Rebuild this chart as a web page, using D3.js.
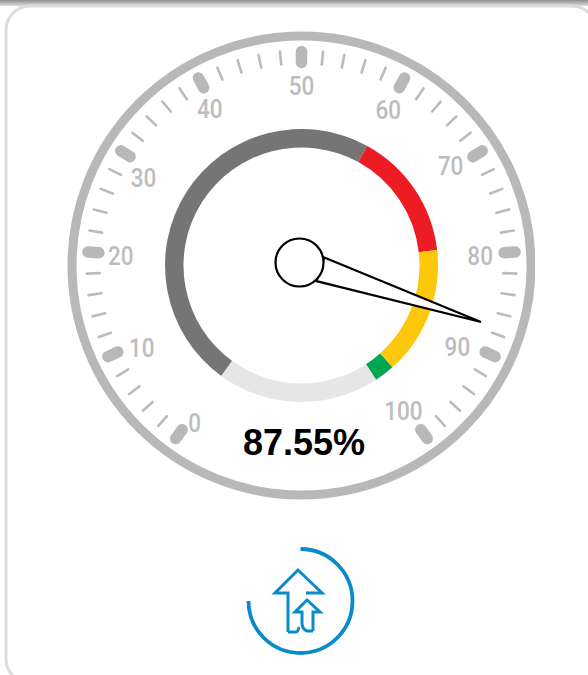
<!DOCTYPE html>
<html>
<head>
<meta charset="utf-8">
<script src="https://cdn.jsdelivr.net/npm/d3@7"></script>
<style>
  html, body { margin: 0; padding: 0; background: #fff; }
  svg { display: block; }
  text { font-family: Roboto, sans-serif; }
</style>
</head>
<body>
<div id="chart"></div>
<script>
// gauge values
const gaugeValue = 87.55;
const majorTicks = [0, 10, 20, 30, 40, 50, 60, 70, 80, 90, 100];
const minorTicks = d3.range(0, 100, 2).filter(d => d % 10 !== 0);
const bandStops = [0, 60, 79, 98, 101, 125];
const bandColors = ['#757575', '#ed1c24', '#fdc70c', '#00a651', '#e6e6e6'];

const width = 588, height = 675;
const cx = 301.5, cy = 265.5;

// the labels sit a little off the true radius in the original
const labelNudge = {0: [-1, 12], 10: [3, 6], 20: [-1, 2], 30: [-6, 9], 40: [-5, 1], 50: [0, 0],
                    60: [0, 2], 70: [-3, -3], 80: [-1, 2], 90: [-7, 5], 100: [-4, 0]};

// 0..100 covers 288 degrees, the unused part of the dial runs on past 100
const angle = d3.scaleLinear().domain([0, 100]).range([-144, 144]);
const rad = d => angle(d) * Math.PI / 180;

const svg = d3.select('#chart')
    .append('svg')
    .attr('width', width)
    .attr('height', height);

// page strip and card
const strip = svg.append('defs').append('linearGradient')
    .attr('id', 'strip')
    .attr('x1', 0).attr('x2', 0).attr('y1', 0).attr('y2', 1);
strip.append('stop').attr('offset', '0%').attr('stop-color', '#8f8f8f');
strip.append('stop').attr('offset', '100%').attr('stop-color', '#dedede');

svg.select('defs').append('clipPath')
    .attr('id', 'cardClip')
    .append('rect')
    .attr('width', 535).attr('height', height);

svg.append('rect')
    .attr('width', width).attr('height', 6)
    .attr('fill', 'url(#strip)');

svg.append('rect')
    .attr('x', 6).attr('y', 6)
    .attr('width', 590).attr('height', 677)
    .attr('rx', 24)
    .attr('fill', '#fff')
    .attr('stroke', '#dcdcdc')
    .attr('stroke-width', 3);

const dial = svg.append('g')
    .attr('clip-path', 'url(#cardClip)')
    .append('g')
    .attr('transform', `translate(${cx}, ${cy})`);

// outer ring
dial.append('circle')
    .attr('r', 229.5)
    .attr('fill', 'none')
    .attr('stroke', '#b8b8b8')
    .attr('stroke-width', 9);

// ticks
dial.selectAll('.minor')
    .data(minorTicks)
    .join('line')
    .attr('class', 'minor')
    .attr('transform', d => `rotate(${angle(d)})`)
    .attr('y1', -215).attr('y2', -202)
    .attr('stroke', '#bbb')
    .attr('stroke-width', 2.6)
    .attr('stroke-linecap', 'round');

dial.selectAll('.major')
    .data(majorTicks)
    .join('line')
    .attr('class', 'major')
    .attr('transform', d => `rotate(${angle(d)})`)
    .attr('y1', -214).attr('y2', -203)
    .attr('stroke', '#b8b8b8')
    .attr('stroke-width', 11.5)
    .attr('stroke-linecap', 'round');

// the dial font is a narrow one, so squeeze it a bit
dial.selectAll('.label')
    .data(majorTicks)
    .join('text')
    .attr('class', 'label')
    .attr('transform', d => {
        const x = 180 * Math.sin(rad(d)) + labelNudge[d][0];
        const y = -180 * Math.cos(rad(d)) + labelNudge[d][1];
        return `translate(${x}, ${y}) scale(0.9, 1)`;
    })
    .attr('dy', '0.36em')
    .attr('text-anchor', 'middle')
    .attr('font-size', 25)
    .attr('font-weight', 500)
    .attr('fill', '#bdbdbd')
    .text(d => d);

// coloured bands
const bandArc = d3.arc().innerRadius(118).outerRadius(136.5);
dial.selectAll('.band')
    .data(bandColors)
    .join('path')
    .attr('class', 'band')
    .attr('d', (d, i) => bandArc({startAngle: rad(bandStops[i]), endAngle: rad(bandStops[i + 1])}))
    .attr('fill', d => d);

// needle, drawn pointing up then rotated to the value
const needleShape = [[-12.4, -22], [0, -191], [12.4, -22]];
const needle = svg.append('g')
    .attr('transform', `translate(299.5, 262.5)`);

needle.append('path')
    .attr('transform', `rotate(${angle(gaugeValue)})`)
    .attr('d', d3.line()(needleShape) + 'Z')
    .attr('fill', '#fff')
    .attr('stroke', '#000')
    .attr('stroke-width', 2.2)
    .attr('stroke-linejoin', 'miter');

needle.append('circle')
    .attr('r', 24)
    .attr('fill', '#fff')
    .attr('stroke', '#000')
    .attr('stroke-width', 2.2);

svg.append('text')
    .attr('x', 304)
    .attr('y', 455)
    .attr('text-anchor', 'middle')
    .style('font-family', '"Liberation Sans", sans-serif')
    .attr('font-size', 36)
    .attr('font-weight', 700)
    .attr('fill', '#000')
    .text(d3.format('.2f')(gaugeValue) + '%');

// trend icon
const icon = svg.append('g')
    .attr('fill', 'none')
    .attr('stroke', '#0a8ac9')
    .attr('stroke-width', 3.8);

icon.append('path')
    .attr('stroke-linecap', 'round')
    .attr('d', d3.arc().innerRadius(52).outerRadius(52)({startAngle: 0, endAngle: 1.5 * Math.PI}))
    .attr('transform', 'translate(300.5, 601)');

icon.append('path')
    .attr('stroke-width', 3)
    .attr('d', 'M288,632V593H275L298,570L322,593H306');

icon.append('path')
    .attr('stroke-width', 3)
    .attr('d', 'M288,632H296Q298,632 299,627');

icon.append('path')
    .attr('stroke-width', 3)
    .attr('d', 'M313,631H307Q302,629 302,623V612H295L307,600L320,612H313V631');
</script>
</body>
</html>
